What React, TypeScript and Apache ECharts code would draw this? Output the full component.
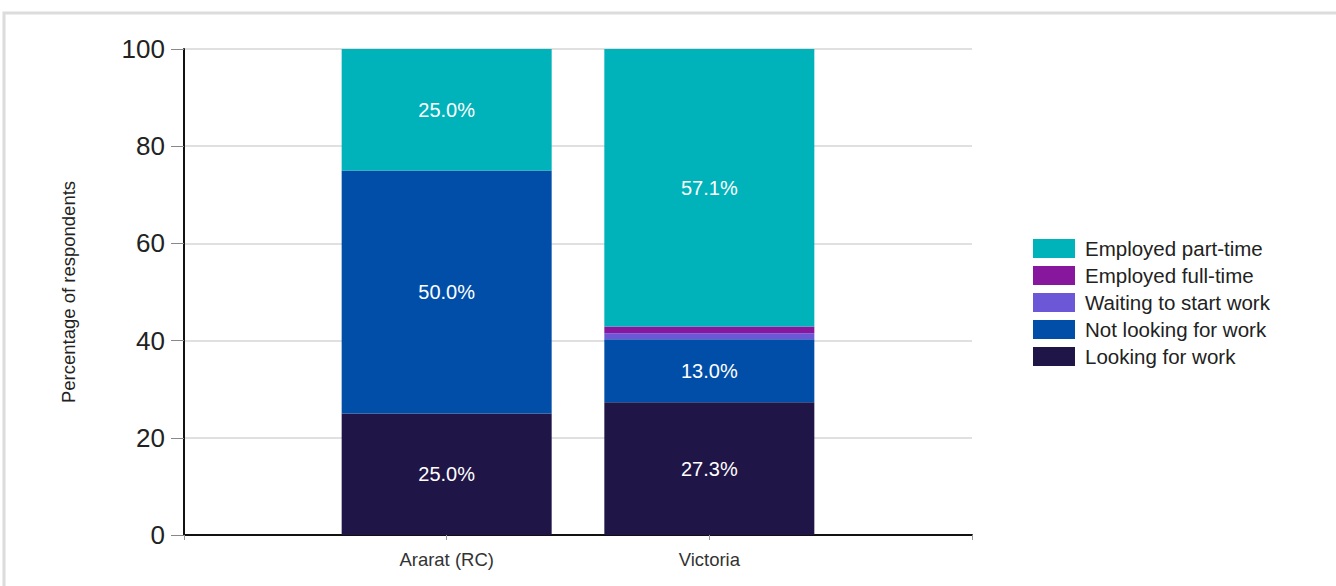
import React, { useEffect, useRef } from "react";
import * as echarts from "echarts";

const categories = ["", "Ararat (RC)", "Victoria", ""];
const lookingForWork = [null, 25.0, 27.3, null];
const notLookingForWork = [null, 50.0, 13.0, null];
const waitingToStart = [null, 0, 1.2, null];
const employedFullTime = [null, 0, 1.4, null];
const employedPartTime = [null, 25.0, 57.1, null];
const yTicks = [0, 20, 40, 60, 80, 100];

const seriesDefs = [
  { name: "Looking for work", data: lookingForWork, color: "#201547" },
  { name: "Not looking for work", data: notLookingForWork, color: "#004EA8" },
  { name: "Waiting to start work", data: waitingToStart, color: "#6C57D6" },
  { name: "Employed full-time", data: employedFullTime, color: "#87189D" },
  { name: "Employed part-time", data: employedPartTime, color: "#00B2B9" },
];

export default function App() {
  const ref = useRef<HTMLDivElement>(null);
  useEffect(() => {
    if (!ref.current) return;
    const chart = echarts.init(ref.current, null, { renderer: "svg" });
    chart.setOption({
      animation: false,
      backgroundColor: "#ffffff",
      textStyle: { fontFamily: "Liberation Sans, Arial, sans-serif" },
      graphic: [
        {
          type: "rect",
          shape: { x: 4, y: 13, width: 1340, height: 590 },
          style: { fill: "none", stroke: "#dcdcdc", lineWidth: 3 },
          silent: true,
          z: -10,
        },
      ],
      grid: { left: 184, right: 364, top: 49, bottom: 51, containLabel: false },
      legend: {
        orient: "vertical",
        left: 1028,
        top: 233,
        itemWidth: 42,
        itemHeight: 19,
        itemGap: 6,
        icon: "rect",
        data: [
          "Employed part-time",
          "Employed full-time",
          "Waiting to start work",
          "Not looking for work",
          "Looking for work",
        ],
        textStyle: { fontSize: 20.5, lineHeight: 17, color: "#222", padding: [0, 0, 0, 5] },
      },
      xAxis: {
        type: "category",
        data: categories,
        boundaryGap: false,
        axisLine: { lineStyle: { color: "#111", width: 2 } },
        axisTick: { show: true, length: 5, lineStyle: { color: "#999" } },
        axisLabel: { fontSize: 18.5, color: "#333", margin: 15 },
        splitLine: { show: false },
      },
      yAxis: {
        type: "value",
        min: yTicks[0],
        max: yTicks[yTicks.length - 1],
        interval: 20,
        name: "Percentage of respondents",
        nameLocation: "middle",
        nameGap: 106,
        nameTextStyle: { fontSize: 18.5, color: "#222" },
        axisLine: { show: true, lineStyle: { color: "#111", width: 2 } },
        axisTick: { show: true, length: 13, lineStyle: { color: "#888" } },
        axisLabel: { fontSize: 26, color: "#222", margin: 19 },
        splitLine: { show: true, lineStyle: { color: "#d6d6d6", width: 1.5 } },
      },
      series: seriesDefs.map((s) => ({
        name: s.name,
        type: "bar",
        stack: "total",
        barWidth: 210,
        data: s.data,
        itemStyle: { color: s.color },
        label: {
          show: true,
          position: "inside",
          color: "#ffffff",
          fontSize: 20,
          formatter: (p: any) =>
            p.value != null && p.value >= 5 ? Number(p.value).toFixed(1) + "%" : "",
        },
      })),
    });
    return () => chart.dispose();
  }, []);
  return (
    <div
      ref={ref}
      style={{ position: "fixed", left: 0, top: 0, width: 1336, height: 586 }}
    />
  );
}
